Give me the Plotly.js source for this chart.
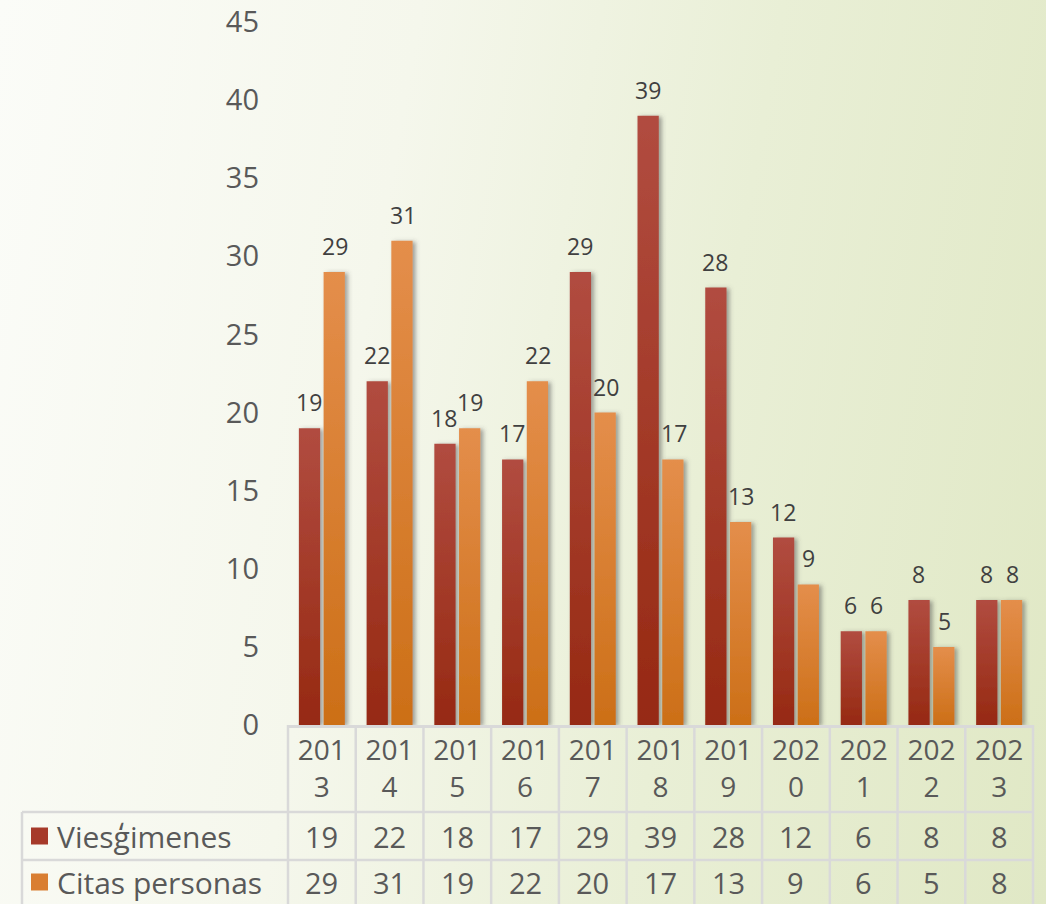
<!DOCTYPE html>
<html>
<head>
<meta charset="utf-8">
<script src="https://cdn.plot.ly/plotly-3.0.1.min.js"></script>
<style>
  html, body { margin: 0; padding: 0; }
  body {
    width: 1046px; height: 904px; overflow: hidden;
    background: linear-gradient(100deg, #fbfcf8 0%, #f5f7ec 35%, #e9efd6 65%, #e0e8c5 100%);
  }
  #chart { width: 1046px; height: 904px; }
</style>
</head>
<body>
<div id="chart"></div>
<script>
const years = ["2013", "2014", "2015", "2016", "2017", "2018", "2019", "2020", "2021", "2022", "2023"];
const seriesNames = ["Viesg\u0312imenes", "Citas personas"];
const viesgimenes = [19, 22, 18, 17, 29, 39, 28, 12, 6, 8, 8];
const citasPersonas = [29, 31, 19, 22, 20, 17, 13, 9, 6, 5, 8];
const yTicks = [0, 5, 10, 15, 20, 25, 30, 35, 40, 45];

const series = [viesgimenes, citasPersonas];
const solid = ["#a63a2a", "#d97e32"];
const gradStops = [["#b14c40", "#962912"], ["#e48e4b", "#cc6f17"]];
const textColor = "#404040";
const labelColor = "#595959";
const gridColor = "#d9d9d9";
const font = "Open Sans, sans-serif";

// year labels wrap in the table header cell
const yearLabels = years.map(y => y.slice(0, 3) + "<br>" + y.slice(3));

const traces = series.map((vals, s) => ({
  type: "bar",
  x: yearLabels,
  y: vals,
  name: seriesNames[s],
  marker: { color: solid[s] },
  hoverinfo: "none",
  showlegend: false
}));

// plot area in pixels: x 288..1033, y 22..725
const plotW = 745, plotH = 703;
const rowY = [-(836 - 725) / plotH, -(882 - 725) / plotH];
const lineY = [-(812 - 725) / plotH, -(860 - 725) / plotH];
const leftX = (22 - 288) / plotW;
const bottomY = -(910 - 725) / plotH;

const annotations = [];
series.forEach((vals, s) => {
  vals.forEach((v, i) => {
    // value above bar (x = category index)
    annotations.push({
      x: i, y: v, xref: "x", yref: "y", text: String(v),
      showarrow: false, yanchor: "bottom", xshift: s === 0 ? -13 : 13, yshift: 8,
      font: { family: font, size: 23, color: textColor }
    });
    // table cell
    annotations.push({
      x: i, y: rowY[s], xref: "x", yref: "paper", text: String(v),
      showarrow: false, yanchor: "middle",
      font: { family: font, size: 29, color: labelColor }
    });
  });
  annotations.push({
    x: (55 - 288) / plotW, y: rowY[s], xref: "paper", yref: "paper", text: seriesNames[s],
    showarrow: false, xanchor: "left", yanchor: "middle",
    font: { family: font, size: 30, color: labelColor }
  });
});

const shapes = [];
lineY.forEach(y => shapes.push({
  type: "line", xref: "paper", yref: "paper", x0: leftX, x1: 1, y0: y, y1: y,
  line: { color: gridColor, width: 2.5 }
}));
for (let i = 0; i <= years.length; i++) {
  shapes.push({
    type: "line", xref: "paper", yref: "paper", x0: i / years.length, x1: i / years.length,
    y0: 0, y1: bottomY, line: { color: gridColor, width: 2.5 }
  });
}
shapes.push({
  type: "line", xref: "paper", yref: "paper", x0: leftX, x1: leftX, y0: lineY[0], y1: bottomY,
  line: { color: gridColor, width: 2.5 }
});
// legend keys
series.forEach((_, s) => shapes.push({
  type: "rect", xref: "paper", yref: "paper", layer: "above",
  x0: (31 - 288) / plotW, x1: (48 - 288) / plotW,
  y0: rowY[s] - 8.5 / plotH, y1: rowY[s] + 8.5 / plotH,
  fillcolor: solid[s], line: { width: 0 }
}));

const layout = {
  width: 1046,
  height: 904,
  margin: { l: 288, r: 13, t: 22, b: 179 },
  paper_bgcolor: "rgba(0,0,0,0)",
  plot_bgcolor: "rgba(0,0,0,0)",
  barmode: "group",
  bargap: 0.27,
  bargroupgap: 0.14,
  font: { family: font, color: labelColor },
  xaxis: {
    type: "category",
    range: [-0.5, years.length - 0.5],
    tickfont: { family: font, size: 28, color: labelColor },
    showline: true, linecolor: gridColor, linewidth: 2.5,
    showgrid: false, ticks: "", ticklabelstandoff: -1
  },
  yaxis: {
    range: [0, 45],
    tickvals: yTicks,
    tickfont: { family: font, size: 29, color: labelColor },
    showgrid: false, zeroline: false, showline: false, ticks: "",
    ticklabelstandoff: 28
  },
  annotations: annotations,
  shapes: shapes
};

Plotly.newPlot("chart", traces, layout, { staticPlot: true, displayModeBar: false }).then(gd => {
  const ns = "http://www.w3.org/2000/svg";
  const defs = gd.querySelector("svg.main-svg defs");
  gradStops.forEach((stops, s) => {
    const g = document.createElementNS(ns, "linearGradient");
    g.setAttribute("id", "barGrad" + s);
    g.setAttribute("x1", "0"); g.setAttribute("y1", "0");
    g.setAttribute("x2", "0"); g.setAttribute("y2", "1");
    stops.forEach((c, k) => {
      const st = document.createElementNS(ns, "stop");
      st.setAttribute("offset", k === 0 ? "0" : "1");
      st.setAttribute("stop-color", c);
      g.appendChild(st);
    });
    defs.appendChild(g);
  });
  const f = document.createElementNS(ns, "filter");
  f.setAttribute("id", "barShadow");
  f.setAttribute("x", "-30%"); f.setAttribute("y", "-5%");
  f.setAttribute("width", "170%"); f.setAttribute("height", "110%");
  const ds = document.createElementNS(ns, "feDropShadow");
  ds.setAttribute("dx", "3"); ds.setAttribute("dy", "1");
  ds.setAttribute("stdDeviation", "2.2");
  ds.setAttribute("flood-color", "#4a4a4a");
  ds.setAttribute("flood-opacity", "0.5");
  f.appendChild(ds);
  defs.appendChild(f);

  gd.querySelectorAll(".barlayer .trace").forEach((t, s) => {
    t.querySelectorAll(".point path").forEach(p => {
      p.style.fill = "url(#barGrad" + s + ")";
      p.style.filter = "url(#barShadow)";
    });
  });
});
</script>
</body>
</html>
